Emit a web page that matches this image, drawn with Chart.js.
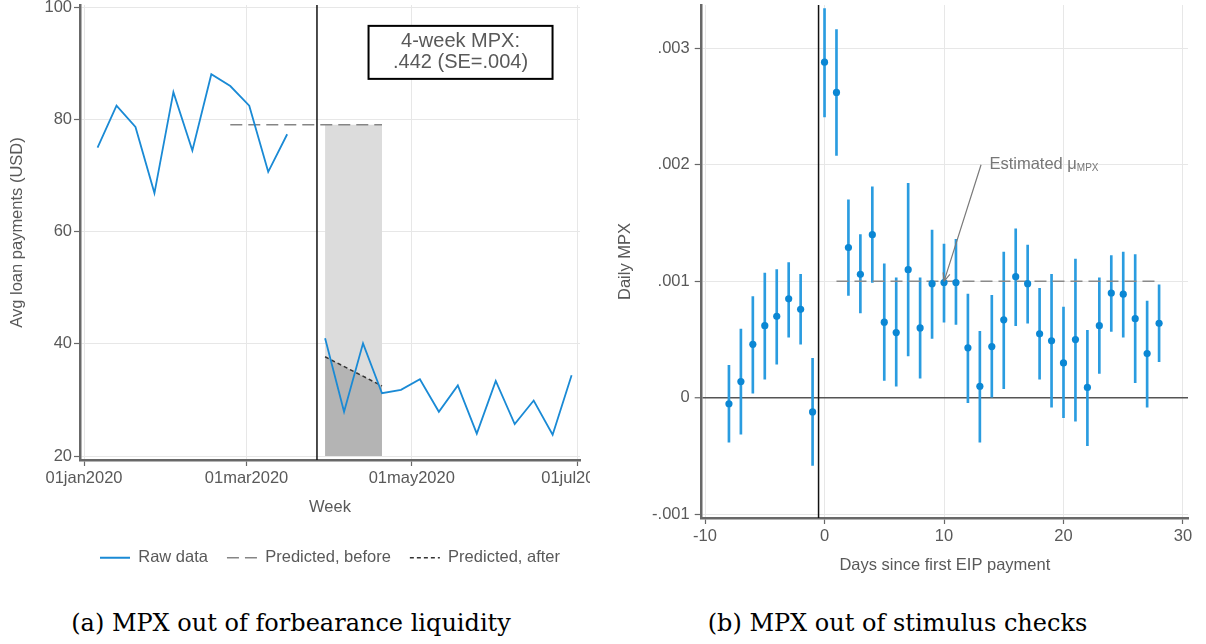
<!DOCTYPE html>
<html>
<head>
<meta charset="utf-8">
<script src="https://cdn.jsdelivr.net/npm/chart.js@4.4.1/dist/chart.umd.min.js"></script>
<style>
  body { margin: 0; background: #fff; width: 1206px; height: 644px; overflow: hidden; position: relative; }
  #loanWrap { position: absolute; left: 0; top: -7px; width: 590px; height: 583px; overflow: hidden; }
  #mpxWrap { position: absolute; left: 600px; top: -10px; width: 606px; height: 598px; }
  .caption { position: absolute; top: 609px; font-family: 'DejaVu Serif', serif; font-size: 24px; color: #000; text-align: center; white-space: nowrap; }
</style>
</head>
<body>
<div id="loanWrap"><canvas id="loanChart" width="620" height="583"></canvas></div>
<div id="mpxWrap"><canvas id="mpxChart" width="606" height="598"></canvas></div>
<div class="caption" style="left:0; width:582px;">(a) MPX out of forbearance liquidity</div>
<div class="caption" style="left:600px; width:595px;">(b) MPX out of stimulus checks</div>

<script>
// ---- panel (a): weekly loan payments around forbearance ----
const weeks = [
  '2020-01-06', '2020-01-13', '2020-01-20', '2020-01-27', '2020-02-03', '2020-02-10',
  '2020-02-17', '2020-02-24', '2020-03-02', '2020-03-09', '2020-03-16', '2020-03-23',
  '2020-03-30', '2020-04-06', '2020-04-13', '2020-04-20', '2020-04-27', '2020-05-04',
  '2020-05-11', '2020-05-18', '2020-05-25', '2020-06-01', '2020-06-08', '2020-06-15',
  '2020-06-22', '2020-06-29'
];
const rawPayments = [
  75.0, 82.5, 78.7, 66.9, 84.9, 74.5, 88.1, 86.0, 82.5, 70.7, 77.4, null,
  41.0, 27.9, 40.1, 31.2, 31.8, 33.7, 27.9, 32.6, 24.0, 33.4, 25.7, 29.9, 23.8, 34.4
];
const beforeWeeks = ['2020-02-24', '2020-04-20'];
const beforeLevel = [79.1, 79.1];
const afterWeeks = ['2020-03-30', '2020-04-20'];
const afterLevel = [37.7, 32.5];
const eventDate = '2020-03-27';
const loanTicks = [20, 40, 60, 80, 100];
const weekTickDates = ['2020-01-01', '2020-03-01', '2020-05-01', '2020-07-01'];
const weekTickLabels = ['01jan2020', '01mar2020', '01may2020', '01jul2020'];
const mpxNote = ['4-week MPX:', '.442 (SE=.004)'];

// ---- panel (b): daily MPX around first EIP payment ----
const eipDays = [-8, -7, -6, -5, -4, -3, -2, -1, 0, 1, 2, 3, 4, 5, 6, 7, 8, 9, 10, 11, 12,
  13, 14, 15, 16, 17, 18, 19, 20, 21, 22, 23, 24, 25, 26, 27, 28];
const mpx = [-0.00005, 0.00014, 0.00046, 0.00062, 0.00070, 0.00085, 0.00076, -0.00012,
  0.00288, 0.00262, 0.00129, 0.00106, 0.00140, 0.00065, 0.00056, 0.00110, 0.00060,
  0.00098, 0.00099, 0.00099, 0.00043, 0.00010, 0.00044, 0.00067, 0.00104, 0.00098,
  0.00055, 0.00049, 0.00030, 0.00050, 0.00009, 0.00062, 0.00090, 0.00089, 0.00068,
  0.00038, 0.00064];
const mpxLo = [-0.00038, -0.00031, 0.00004, 0.00016, 0.00029, 0.00052, 0.00046, -0.00058,
  0.00241, 0.00208, 0.00088, 0.00073, 0.00099, 0.00015, 0.00010, 0.00036, 0.00017,
  0.00051, 0.00065, 0.00063, -0.00004, -0.00038, 0.00000, 0.00008, 0.00062, 0.00064,
  0.00016, -0.00008, -0.00017, -0.00020, -0.00041, 0.00021, 0.00057, 0.00052, 0.00013,
  -0.00008, 0.00031];
const mpxHi = [0.00028, 0.00059, 0.00087, 0.00107, 0.00110, 0.00116, 0.00106, 0.00034,
  0.00334, 0.00316, 0.00170, 0.00140, 0.00181, 0.00115, 0.00103, 0.00184, 0.00103,
  0.00144, 0.00132, 0.00136, 0.00089, 0.00057, 0.00088, 0.00125, 0.00145, 0.00131,
  0.00094, 0.00106, 0.00078, 0.00119, 0.00058, 0.00103, 0.00122, 0.00125, 0.00123,
  0.00083, 0.00097];
const muDays = [1, 28];
const muMPX = [0.001, 0.001];
const eipStart = -0.5;
const dayTicks = [-10, 0, 10, 20, 30];
const mpxTicks = [-0.001, 0, 0.001, 0.002, 0.003];
const mpxTickLabels = ['-.001', '0', '.001', '.002', '.003'];
const muLabelAt = { x: 13.8, y: 0.002 };
const muArrow = { from: [13.1, 0.002], to: [10, 0.001] };

const AXIS = '#686868';
const GRID = '#e7e7e7';
const TEXT = '#595959';
const BLUE = '#1a8ad5';
const FONT = "'Liberation Sans', Arial, sans-serif";

Chart.defaults.font.family = FONT;
Chart.defaults.font.size = 16.5;
Chart.defaults.color = TEXT;

const dayOf = s => {
  const [y, m, d] = s.split('-').map(Number);
  return (Date.UTC(y, m - 1, d) - Date.UTC(2020, 0, 1)) / 86400000;
};
const xy = (xs, ys) => xs.map((x, i) => ({ x, y: ys[i] }));

const axisCommon = (tickLength, tickPadding) => ({
  offset: false,
  border: { color: AXIS, width: 2.5 },
  grid: { color: GRID, tickColor: AXIS, tickLength, tickWidth: 1.2, offset: false },
  ticks: { padding: tickPadding, color: TEXT, font: { size: 16.5 }, maxRotation: 0, autoSkip: false }
});

// vertical event line + the boxed MPX note
const loanMarks = {
  id: 'loanMarks',
  beforeDatasetsDraw(chart) {
    const { ctx, chartArea, scales: { x } } = chart;
    const px = x.getPixelForValue(dayOf(eventDate));
    ctx.save();
    ctx.strokeStyle = '#111';
    ctx.lineWidth = 1.5;
    ctx.beginPath();
    ctx.moveTo(px, chartArea.top);
    ctx.lineTo(px, chartArea.bottom);
    ctx.stroke();
    ctx.restore();
  },
  afterDatasetsDraw(chart) {
    const { ctx, scales: { x, y } } = chart;
    const cx = x.getPixelForValue(139);
    const cy = y.getPixelForValue(92);
    const w = 184, h = 53;
    ctx.save();
    ctx.fillStyle = '#fff';
    ctx.fillRect(cx - w / 2, cy - h / 2, w, h);
    ctx.strokeStyle = '#000';
    ctx.lineWidth = 2;
    ctx.strokeRect(cx - w / 2, cy - h / 2, w, h);
    ctx.fillStyle = TEXT;
    ctx.font = '20px ' + FONT;
    ctx.textAlign = 'center';
    ctx.textBaseline = 'middle';
    ctx.fillText(mpxNote[0], cx, cy - 10.5);
    ctx.fillText(mpxNote[1], cx, cy + 10.5);
    ctx.restore();
  }
};

new Chart(document.getElementById('loanChart'), {
  type: 'line',
  data: {
    datasets: [
      { label: 'Raw data', data: xy(weeks.map(dayOf), rawPayments), borderColor: BLUE,
        borderWidth: 1.8, pointRadius: 0, spanGaps: false, tension: 0 },
      { label: 'Predicted, before', data: xy(beforeWeeks.map(dayOf), beforeLevel),
        borderColor: '#858585', borderWidth: 1.6, borderDash: [12, 6], pointRadius: 0 },
      { label: 'Predicted, after', data: xy(afterWeeks.map(dayOf), afterLevel),
        borderColor: '#333', borderWidth: 1.5, borderDash: [4, 3], pointRadius: 0,
        fill: { value: loanTicks[0] }, backgroundColor: '#b4b4b4' },
      { label: 'gap', data: xy(afterWeeks.map(dayOf), beforeLevel),
        borderColor: 'rgba(0,0,0,0)', pointRadius: 0,
        fill: { value: loanTicks[0] }, backgroundColor: '#dcdcdc' }
    ]
  },
  options: {
    responsive: false,
    animation: false,
    layout: { padding: { top: 12, right: 40, left: 0, bottom: 0 } },
    plugins: {
      tooltip: { enabled: false },
      legend: {
        position: 'bottom',
        fullSize: false,
        labels: {
          usePointStyle: true,
          pointStyleWidth: 30,
          padding: 19,
          color: TEXT,
          font: { size: 16.5 },
          generateLabels: chart => chart.data.datasets.slice(0, 3).map((ds, i) => ({
            text: ds.label, datasetIndex: i, pointStyle: 'line', hidden: false,
            strokeStyle: ds.borderColor, fillStyle: ds.borderColor,
            lineWidth: ds.borderWidth, lineDash: ds.borderDash || [], fontColor: TEXT
          }))
        }
      }
    },
    scales: {
      x: {
        type: 'linear',
        min: -1.48,
        max: 183.1,
        ...axisCommon(6, 3),
        afterBuildTicks: s => { s.ticks = weekTickDates.map(d => ({ value: dayOf(d) })); },
        afterFit: s => { s.height = 70.5; },
        ticks: { ...axisCommon(6, 3).ticks, callback: (v, i) => weekTickLabels[i] },
        title: { display: true, text: 'Week', color: TEXT, font: { size: 16.5 }, padding: { top: 0, bottom: 13.6 } }
      },
      y: {
        min: 19.29,
        max: 100.45,
        ...axisCommon(6, 2),
        afterBuildTicks: s => { s.ticks = loanTicks.map(v => ({ value: v })); },
        afterFit: s => { s.width = 80; },
        title: { display: true, text: 'Avg loan payments (USD)', color: TEXT, font: { size: 16.5 }, padding: { top: 7.2, bottom: 0 } }
      }
    }
  },
  plugins: [loanMarks]
});

// payment-day line and the labelled arrow to the estimated MPX
const mpxMarks = {
  id: 'mpxMarks',
  beforeDatasetsDraw(chart) {
    const { ctx, chartArea, scales: { x } } = chart;
    const px = x.getPixelForValue(eipStart);
    ctx.save();
    ctx.strokeStyle = '#111';
    ctx.lineWidth = 1.5;
    ctx.beginPath();
    ctx.moveTo(px, chartArea.top);
    ctx.lineTo(px, chartArea.bottom);
    ctx.stroke();
    ctx.restore();
  },
  afterDatasetsDraw(chart) {
    const { ctx, scales: { x, y } } = chart;
    const x0 = x.getPixelForValue(muArrow.from[0]), y0 = y.getPixelForValue(muArrow.from[1]);
    const x1 = x.getPixelForValue(muArrow.to[0]), y1 = y.getPixelForValue(muArrow.to[1]);
    const ang = Math.atan2(y1 - y0, x1 - x0);
    ctx.save();
    ctx.strokeStyle = '#7a7a7a';
    ctx.lineWidth = 1.2;
    ctx.beginPath();
    ctx.moveTo(x0, y0);
    ctx.lineTo(x1, y1);
    for (const s of [-1, 1]) {
      ctx.moveTo(x1, y1);
      ctx.lineTo(x1 - 9 * Math.cos(ang + s * 0.4), y1 - 9 * Math.sin(ang + s * 0.4));
    }
    ctx.stroke();

    const tx = x.getPixelForValue(muLabelAt.x), ty = y.getPixelForValue(muLabelAt.y);
    ctx.fillStyle = '#777';
    ctx.textBaseline = 'middle';
    ctx.textAlign = 'left';
    ctx.font = '16.5px ' + FONT;
    const main = 'Estimated \u03bc';
    ctx.fillText(main, tx, ty);
    const mw = ctx.measureText(main).width;
    ctx.font = '10px ' + FONT;
    ctx.fillText('MPX', tx + mw, ty + 4);
    ctx.restore();
  }
};

new Chart(document.getElementById('mpxChart'), {
  type: 'scatter',
  data: {
    datasets: [
      { type: 'scatter', data: xy(eipDays, mpx), pointRadius: 3.6, pointBackgroundColor: '#0b87d4',
        pointBorderWidth: 0, pointHoverRadius: 3.6 },
      { type: 'line', data: xy(muDays, muMPX), borderColor: '#8a8a8a', borderWidth: 1.6,
        borderDash: [12, 6], pointRadius: 0 },
      { type: 'bar', data: eipDays.map((d, i) => ({ x: d, y: [mpxLo[i], mpxHi[i]] })),
        backgroundColor: '#2a9ce0', borderWidth: 0, barThickness: 2 }
    ]
  },
  options: {
    responsive: false,
    animation: false,
    layout: { padding: { top: 15, right: 18, left: 0, bottom: 0 } },
    plugins: { tooltip: { enabled: false }, legend: { display: false } },
    scales: {
      x: {
        type: 'linear',
        min: -10.28,
        max: 30.42,
        ...axisCommon(6, 3),
        afterBuildTicks: s => { s.ticks = dayTicks.map(v => ({ value: v })); },
        afterFit: s => { s.height = 70; },
        title: { display: true, text: 'Days since first EIP payment', color: TEXT, font: { size: 16.5 }, padding: { top: 0, bottom: 13.1 } }
      },
      y: {
        type: 'linear',
        min: -0.00103,
        max: 0.00337,
        ...axisCommon(7, 5),
        grid: {
          color: c => (c.tick && c.tick.value === 0 ? '#555' : GRID),
          lineWidth: c => (c.tick && c.tick.value === 0 ? 1.5 : 1),
          tickColor: AXIS, tickLength: 7, tickWidth: 1.2, offset: false
        },
        afterBuildTicks: s => { s.ticks = mpxTicks.map(v => ({ value: v })); },
        afterFit: s => { s.width = 101.7; },
        ticks: { ...axisCommon(7, 5).ticks, callback: (v, i) => mpxTickLabels[i] },
        title: { display: true, text: 'Daily MPX', color: TEXT, font: { size: 16.5 }, padding: { top: 15.4, bottom: 0 } }
      }
    }
  },
  plugins: [mpxMarks]
});
</script>
</body>
</html>
